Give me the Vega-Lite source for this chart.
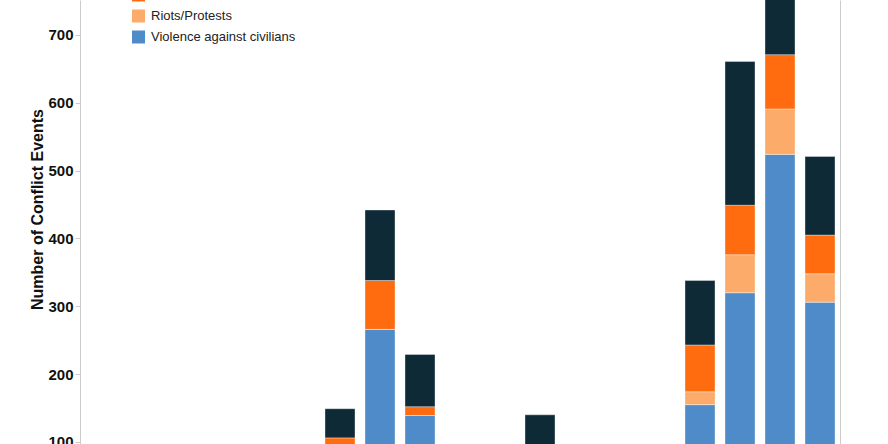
{
  "$schema": "https://vega.github.io/schema/vega-lite/v6.json",
  "autosize": {"type": "none"},
  "width": 760,
  "height": 444,
  "padding": {"left": 80, "top": 0, "right": 48, "bottom": 0},
  "config": {
    "font": "Liberation Sans",
    "view": {"stroke": null},
    "axis": {"grid": false}
  },
  "data": {
    "values": [
      {"year": "1997", "type": "Violence against civilians", "events": 8},
      {"year": "1997", "type": "Riots/Protests", "events": 2},
      {"year": "1997", "type": "Remote violence", "events": 0},
      {"year": "1997", "type": "Battles", "events": 10},
      {"year": "1998", "type": "Violence against civilians", "events": 10},
      {"year": "1998", "type": "Riots/Protests", "events": 3},
      {"year": "1998", "type": "Remote violence", "events": 1},
      {"year": "1998", "type": "Battles", "events": 12},
      {"year": "1999", "type": "Violence against civilians", "events": 12},
      {"year": "1999", "type": "Riots/Protests", "events": 4},
      {"year": "1999", "type": "Remote violence", "events": 2},
      {"year": "1999", "type": "Battles", "events": 15},
      {"year": "2000", "type": "Violence against civilians", "events": 15},
      {"year": "2000", "type": "Riots/Protests", "events": 5},
      {"year": "2000", "type": "Remote violence", "events": 3},
      {"year": "2000", "type": "Battles", "events": 20},
      {"year": "2001", "type": "Violence against civilians", "events": 20},
      {"year": "2001", "type": "Riots/Protests", "events": 4},
      {"year": "2001", "type": "Remote violence", "events": 5},
      {"year": "2001", "type": "Battles", "events": 25},
      {"year": "2002", "type": "Violence against civilians", "events": 25},
      {"year": "2002", "type": "Riots/Protests", "events": 3},
      {"year": "2002", "type": "Remote violence", "events": 8},
      {"year": "2002", "type": "Battles", "events": 30},
      {"year": "2003", "type": "Violence against civilians", "events": 62},
      {"year": "2003", "type": "Riots/Protests", "events": 8},
      {"year": "2003", "type": "Remote violence", "events": 36},
      {"year": "2003", "type": "Battles", "events": 43},
      {"year": "2004", "type": "Violence against civilians", "events": 266},
      {"year": "2004", "type": "Riots/Protests", "events": 0},
      {"year": "2004", "type": "Remote violence", "events": 72},
      {"year": "2004", "type": "Battles", "events": 104},
      {"year": "2005", "type": "Violence against civilians", "events": 139},
      {"year": "2005", "type": "Riots/Protests", "events": 0},
      {"year": "2005", "type": "Remote violence", "events": 13},
      {"year": "2005", "type": "Battles", "events": 77},
      {"year": "2006", "type": "Violence against civilians", "events": 30},
      {"year": "2006", "type": "Riots/Protests", "events": 4},
      {"year": "2006", "type": "Remote violence", "events": 6},
      {"year": "2006", "type": "Battles", "events": 35},
      {"year": "2007", "type": "Violence against civilians", "events": 25},
      {"year": "2007", "type": "Riots/Protests", "events": 5},
      {"year": "2007", "type": "Remote violence", "events": 5},
      {"year": "2007", "type": "Battles", "events": 40},
      {"year": "2008", "type": "Violence against civilians", "events": 28},
      {"year": "2008", "type": "Riots/Protests", "events": 3},
      {"year": "2008", "type": "Remote violence", "events": 9},
      {"year": "2008", "type": "Battles", "events": 100},
      {"year": "2009", "type": "Violence against civilians", "events": 20},
      {"year": "2009", "type": "Riots/Protests", "events": 6},
      {"year": "2009", "type": "Remote violence", "events": 4},
      {"year": "2009", "type": "Battles", "events": 30},
      {"year": "2010", "type": "Violence against civilians", "events": 22},
      {"year": "2010", "type": "Riots/Protests", "events": 8},
      {"year": "2010", "type": "Remote violence", "events": 3},
      {"year": "2010", "type": "Battles", "events": 20},
      {"year": "2011", "type": "Violence against civilians", "events": 30},
      {"year": "2011", "type": "Riots/Protests", "events": 15},
      {"year": "2011", "type": "Remote violence", "events": 5},
      {"year": "2011", "type": "Battles", "events": 25},
      {"year": "2012", "type": "Violence against civilians", "events": 155},
      {"year": "2012", "type": "Riots/Protests", "events": 19},
      {"year": "2012", "type": "Remote violence", "events": 69},
      {"year": "2012", "type": "Battles", "events": 95},
      {"year": "2013", "type": "Violence against civilians", "events": 320},
      {"year": "2013", "type": "Riots/Protests", "events": 56},
      {"year": "2013", "type": "Remote violence", "events": 73},
      {"year": "2013", "type": "Battles", "events": 212},
      {"year": "2014", "type": "Violence against civilians", "events": 524},
      {"year": "2014", "type": "Riots/Protests", "events": 67},
      {"year": "2014", "type": "Remote violence", "events": 80},
      {"year": "2014", "type": "Battles", "events": 110},
      {"year": "2015", "type": "Violence against civilians", "events": 306},
      {"year": "2015", "type": "Riots/Protests", "events": 42},
      {"year": "2015", "type": "Remote violence", "events": 57},
      {"year": "2015", "type": "Battles", "events": 116}
    ]
  },
  "encoding": {
    "x": {
      "field": "year",
      "type": "ordinal",
      "title": null,
      "scale": {"paddingInner": 0.25, "paddingOuter": 0.125},
      "axis": null
    },
    "y": {
      "aggregate": "sum",
      "field": "events",
      "type": "quantitative",
      "stack": "zero",
      "scale": {"domain": [97, 751.6], "nice": false, "zero": false}
    },
    "order": {"field": "type", "sort": "descending"}
  },
  "layer": [
    {
      "mark": {"type": "bar", "clip": true, "stroke": "white", "strokeWidth": 0.6, "strokeOpacity": 0.6},
      "encoding": {
        "y": {
          "aggregate": "sum",
          "field": "events",
          "type": "quantitative",
          "stack": "zero",
          "scale": {"domain": [97, 751.6], "nice": false, "zero": false},
          "axis": {
            "title": "Number of Conflict Events",
            "titleFontSize": 16,
            "titleFontWeight": "bold",
            "titleColor": "#111111",
            "titlePadding": 2,
            "titleY": 209,
            "values": [100, 200, 300, 400, 500, 600, 700],
            "labelFontSize": 15,
            "labelFontWeight": "bold",
            "labelColor": "#111111",
            "labelPadding": 2,
            "tickSize": 5,
            "tickColor": "#cccccc",
            "domainColor": "#cccccc"
          }
        },
        "color": {
          "field": "type",
          "type": "nominal",
          "scale": {
            "domain": ["Battles", "Remote violence", "Riots/Protests", "Violence against civilians"],
            "range": ["#0f2a37", "#ff6b0f", "#fdab6a", "#4f8bc8"]
          },
          "legend": {
            "title": null,
            "orient": "none",
            "legendX": 52,
            "legendY": -32.5,
            "padding": 0,
            "symbolType": "square",
            "symbolSize": 169,
            "symbolStrokeWidth": 0,
            "symbolOpacity": 1,
            "labelFontSize": 13,
            "labelColor": "#222222",
            "labelOffset": 6,
            "rowPadding": 7
          }
        }
      }
    },
    {
      "mark": {"type": "bar", "clip": true, "opacity": 0},
      "encoding": {
        "y": {
          "aggregate": "sum",
          "field": "events",
          "type": "quantitative",
          "stack": "zero",
          "scale": {"domain": [97, 751.6], "nice": false, "zero": false},
          "axis": {
            "orient": "right",
            "title": null,
            "labels": false,
            "ticks": false,
            "domainColor": "#cccccc"
          }
        }
      }
    }
  ],
  "resolve": {"axis": {"y": "independent"}}
}
